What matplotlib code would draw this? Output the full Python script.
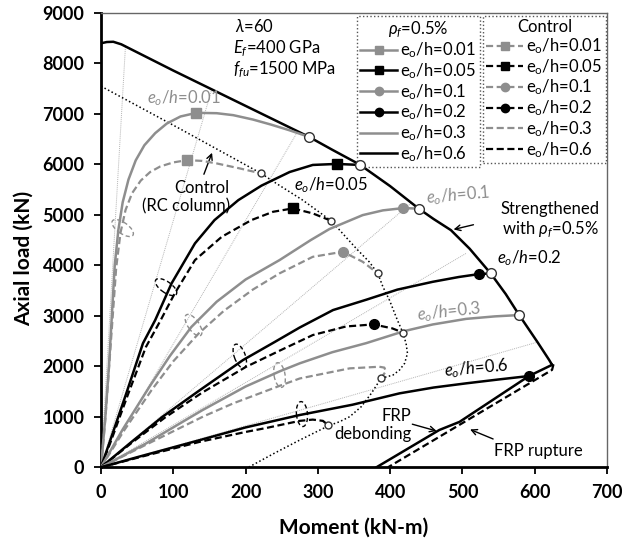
import matplotlib
matplotlib.use('Agg')
import matplotlib.pyplot as plt
from matplotlib.lines import Line2D
from matplotlib.patches import Ellipse
from matplotlib.transforms import ScaledTranslation
import numpy as np

# plot settings
plt.rcParams['font.family'] = ['Lato', 'DejaVu Sans']
plt.rcParams['mathtext.fontset'] = 'custom'
plt.rcParams['mathtext.rm'] = 'Lato'
plt.rcParams['mathtext.it'] = 'Lato:italic'
plt.rcParams['mathtext.bf'] = 'Lato:bold'
plt.rcParams['mathtext.fallback'] = 'stixsans'
grey = '#8e8e8e'
dash = (0, (3.2, 1.6))

# ---- data: moment M (kN-m), axial load P (kN) ----
# strengthened column envelope (rho_f = 0.5%)
env_M = [0, 8, 17, 28, 100, 200, 287.6, 320, 357.6, 400, 439.5, 460, 484, 510, 539.4, 560, 578.5, 603.8, 620, 624]
env_P = [8400, 8425, 8430, 8380, 7860, 7160, 6547, 6290, 6000, 5570, 5125, 4920, 4699, 4330, 3835, 3430, 3016, 2481, 2126, 2030]
# FRP debonding / FRP rupture limits
deb_M = [624, 592, 496, 468, 381]
deb_P = [2030, 1808, 900, 739, 0]
rup_M = [626, 624, 397]
rup_P = [2040, 1930, 0]
# control (RC column) envelope
cenv_M = [0, 110, 221.5, 242.5, 279, 318.5, 353, 371, 382.9, 390, 399, 410, 417.5, 422, 424, 420, 413, 404,
          387.4, 374, 360, 344, 330, 315, 275, 240, 204]
cenv_P = [7550, 6700, 5822, 5624, 5293, 4883, 4336, 4071, 3842, 3576, 3313, 2917, 2670, 2455, 2257, 2059, 1927, 1828,
          1762, 1465, 1200, 1002, 903, 824, 540, 280, 0]

# load paths, strengthened (s) and control (c), for each e_o/h
s001_M = [0, 6, 11, 15, 19, 24, 30, 38, 48, 60, 75, 91, 110, 132, 160, 183, 210, 235, 260, 287.6]
s001_P = [0, 1000, 2000, 3000, 4000, 4700, 5250, 5700, 6080, 6380, 6620, 6810, 6950, 7022, 7015, 6976, 6890, 6790, 6680, 6547]
c001_M = [0, 6, 11, 16, 21, 27, 34, 43, 55, 68, 82, 100, 119, 140, 160, 192, 221.5]
c001_P = [0, 950, 1950, 2950, 3950, 4650, 5100, 5430, 5680, 5850, 5960, 6040, 6085, 6070, 6020, 5921, 5822]

s005_M = [0, 12, 35, 58, 75, 97.6, 130, 157, 190, 222, 261, 293, 326, 358.5]
s005_P = [0, 500, 1465, 2455, 2917, 3643, 4436, 4897, 5293, 5580, 5850, 5990, 6010, 5990]
c005_M = [0, 13, 37, 62, 82, 102, 130, 167, 208, 238, 265.5, 293, 318.5]
c005_P = [0, 490, 1430, 2380, 2900, 3445, 4105, 4566, 4897, 5062, 5129, 5030, 4883]

s01_M = [0, 30, 67, 95, 125, 160, 200, 247, 290, 316, 362, 390, 418, 439.5]
s01_P = [0, 750, 1596, 2200, 2780, 3280, 3720, 4105, 4500, 4720, 4996, 5090, 5135, 5125]
c01_M = [0, 32, 70, 100, 135, 170, 210, 247, 293, 334.5, 362, 382.9]
c01_P = [0, 730, 1530, 2100, 2650, 3100, 3520, 3842, 4170, 4270, 4072, 3842]

s02_M = [0, 42, 85, 137, 196.5, 240, 275, 321, 367, 410, 459, 495, 523, 539.4]
s02_P = [0, 500, 1000, 1531, 2125, 2480, 2770, 3115, 3320, 3520, 3675, 3770, 3828, 3841]
c02_M = [0, 43, 88, 140, 201, 250, 293, 339, 377, 403, 417.5]
c02_P = [0, 490, 980, 1480, 1993, 2330, 2620, 2790, 2831, 2752, 2670]

s03_M = [0, 62, 140, 200, 247, 275, 320, 367, 420, 459, 505, 545, 578.5]
s03_P = [0, 470, 1130, 1600, 1900, 2060, 2280, 2460, 2700, 2830, 2940, 2990, 3016]
c03_M = [0, 64, 142, 183, 252, 275, 344, 385, 392, 394, 390, 387.4]
c03_P = [0, 460, 1010, 1267, 1640, 1760, 1960, 1992, 1975, 1900, 1820, 1762]

s06_M = [0, 50, 137, 200, 275, 348, 413, 460, 505, 550, 592]
s06_P = [0, 200, 540, 790, 1036, 1240, 1465, 1580, 1663, 1740, 1808]
c06_M = [0, 52, 137, 200, 229, 275, 293, 307, 314]
c06_P = [0, 195, 506, 700, 780, 920, 945, 920, 838]

# first-order eccentricity lines (end points, from origin)
rad_M = [34, 153, 272, 430, 505, 604]
rad_P = [8380, 7475, 6650, 5245, 4238, 2481]

# peak-load markers and failure points
sq_grey_M, sq_grey_P = [132, 119], [7022, 6085]
sq_black_M, sq_black_P = [326, 265.5], [6010, 5129]
ci_grey_M, ci_grey_P = [418, 334.5], [5135, 4270]
ci_black_M, ci_black_P = [523, 377, 592], [3828, 2831, 1808]
fail_s_M = [287.6, 358.5, 439.5, 539.4, 578.5]
fail_s_P = [6547, 5990, 5125, 3841, 3016]
fail_c_M = [221.5, 318.5, 382.9, 417.5, 387.4, 314]
fail_c_P = [5822, 4883, 3842, 2670, 1762, 838]

# dashed ellipses grouping each pair of curves
ell_M = [30, 90, 128, 192, 247, 278]
ell_P = [4740, 3570, 2817, 2204, 1828, 1055]
ell_ang = [-35, -35, -55, -70, -80, -85]

# ---- figure ----
fig = plt.figure(figsize=(6.25, 5.45), dpi=100)
ax = fig.add_axes([101 / 625, 1 - 467.3 / 545, 506 / 625, 454.3 / 545])

for m, p in zip(rad_M, rad_P):
    ax.plot([0, m], [0, p], color='#b5b5b5', lw=0.7, ls=(0, (1, 1)), zorder=1)

ax.plot(env_M, env_P, color='black', lw=1.8, zorder=3)
ax.plot(deb_M, deb_P, color='black', lw=1.8, zorder=3)
ax.plot(rup_M, rup_P, color='black', lw=1.6, ls=dash, zorder=3)
ax.plot(cenv_M, cenv_P, color='black', lw=1.1, ls=(0, (1, 1.6)), zorder=3)

curves = [(s001_M, s001_P, c001_M, c001_P, grey),
          (s005_M, s005_P, c005_M, c005_P, 'black'),
          (s01_M, s01_P, c01_M, c01_P, grey),
          (s02_M, s02_P, c02_M, c02_P, 'black'),
          (s03_M, s03_P, c03_M, c03_P, grey),
          (s06_M, s06_P, c06_M, c06_P, 'black')]
for sm, sp, cm, cp, col in curves:
    ax.plot(sm, sp, color=col, lw=1.8, zorder=4)
    ax.plot(cm, cp, color=col, lw=1.6, ls=dash, zorder=4)

ax.plot(sq_grey_M, sq_grey_P, 's', color=grey, ms=7, zorder=5)
ax.plot(sq_black_M, sq_black_P, 's', color='black', ms=7, zorder=5)
ax.plot(ci_grey_M, ci_grey_P, 'o', color=grey, ms=7, zorder=5)
ax.plot(ci_black_M, ci_black_P, 'o', color='black', ms=7, zorder=5)
ax.plot(fail_s_M, fail_s_P, 'o', mfc='white', mec='#333333', mew=1, ms=7, zorder=6)
ax.plot(fail_c_M, fail_c_P, 'o', mfc='white', mec='#333333', mew=1, ms=5, zorder=6)

for m, p, a, col in zip(ell_M, ell_P, ell_ang, [grey, 'black'] * 3):
    tr = fig.dpi_scale_trans + ScaledTranslation(m, p, ax.transData)
    ax.add_patch(Ellipse((0, 0), 0.25, 0.11, angle=a, transform=tr, fill=False,
                         ec=col, lw=1, ls=(0, (3, 2)), zorder=6))

# axes
ax.set_xlim(0, 700)
ax.set_ylim(0, 9000)
ax.set_xticks(np.arange(0, 701, 100))
ax.set_yticks(np.arange(0, 9001, 1000))
ax.tick_params(direction='out', length=5, width=1.3, pad=7, labelsize=13)
for lab in ax.get_xticklabels() + ax.get_yticklabels():
    lab.set_fontweight('bold')
for s in ['left', 'bottom']:
    ax.spines[s].set_linewidth(2)
for s in ['top', 'right']:
    ax.spines[s].set_linewidth(1)
    ax.spines[s].set_color('#666666')
ax.set_xlabel('Moment (kN-m)', fontsize=15, fontweight='bold', labelpad=12)
ax.set_ylabel('Axial load (kN)', fontsize=15, fontweight='bold')
ax.yaxis.set_label_coords(-0.133, 0.46)

# text labels
fs = 12
ax.text(186, 8725, r'$\lambda$=60', fontsize=fs, va='center')
ax.text(183, 8283, r'$E_f$=400 GPa', fontsize=fs, va='center')
ax.text(183, 7867, r'$f_{fu}$=1500 MPa', fontsize=fs, va='center')
ax.text(115, 7323, r'$e_o/h$=0.01', color=grey, fontsize=fs, ha='center', va='center')
ax.text(318, 5590, r'$e_o/h$=0.05', fontsize=fs, ha='center', va='center')
ax.text(494, 5390, r'$e_o/h$=0.1', color=grey, fontsize=fs, ha='center', va='center', rotation=5)
ax.text(592, 4145, r'$e_o/h$=0.2', fontsize=fs, ha='center', va='center')
ax.text(482, 3085, r'$e_o/h$=0.3', color=grey, fontsize=fs, ha='center', va='center', rotation=6)
ax.text(520, 1955, r'$e_o/h$=0.6', fontsize=fs, ha='center', va='center', rotation=5)
ax.text(689, 4897, 'Strengthened\nwith $\\rho_f$=0.5%', fontsize=fs, ha='right', va='center',
        multialignment='right')
ax.text(178, 5352, 'Control\n(RC column)', fontsize=fs, ha='right', va='center', multialignment='right')
ax.text(429, 838, 'FRP\ndebonding', fontsize=fs, ha='right', va='center', multialignment='right')
ax.text(605, 323, 'FRP rupture', fontsize=fs, ha='center', va='center')

arrow = dict(arrowstyle='->', color='black', lw=1)
ax.annotate('', xy=(484, 4699), xytext=(519, 4818), arrowprops=arrow)
ax.annotate('', xy=(155, 6283), xytext=(141, 5754), arrowprops=arrow)
ax.annotate('', xy=(468, 704), xytext=(427, 869), arrowprops=arrow)
ax.annotate('', xy=(507, 771), xytext=(546, 540), arrowprops=arrow)

# legends
labels = [r'e$_\mathrm{o}$/h=0.01', r'e$_\mathrm{o}$/h=0.05', r'e$_\mathrm{o}$/h=0.1',
          r'e$_\mathrm{o}$/h=0.2', r'e$_\mathrm{o}$/h=0.3', r'e$_\mathrm{o}$/h=0.6']
styles = [(grey, 's'), ('black', 's'), (grey, 'o'), ('black', 'o'), (grey, None), ('black', None)]


def make_legend(ls, title, x0):
    handles = [Line2D([], [], color=c, marker=mk, ms=6, lw=1.8 if ls == '-' else 1.6, ls=ls)
               for c, mk in styles]
    leg = ax.legend(handles, labels, title=title, loc='upper left',
                    bbox_to_anchor=(x0 / 625, 1 - 16 / 545), bbox_transform=fig.transFigure,
                    fontsize=fs, title_fontsize=fs, handlelength=2.2, handletextpad=0.2,
                    labelspacing=0.06, borderpad=0.2, borderaxespad=0, fancybox=False,
                    framealpha=1, edgecolor='#555555')
    leg.get_frame().set_linestyle(':')
    leg.get_frame().set_linewidth(1)
    return leg


leg1 = make_legend('-', r'$\rho_f$=0.5%', 357)
ax.add_artist(leg1)
make_legend(dash, 'Control', 483)

fig.savefig('out.png', dpi=100)
